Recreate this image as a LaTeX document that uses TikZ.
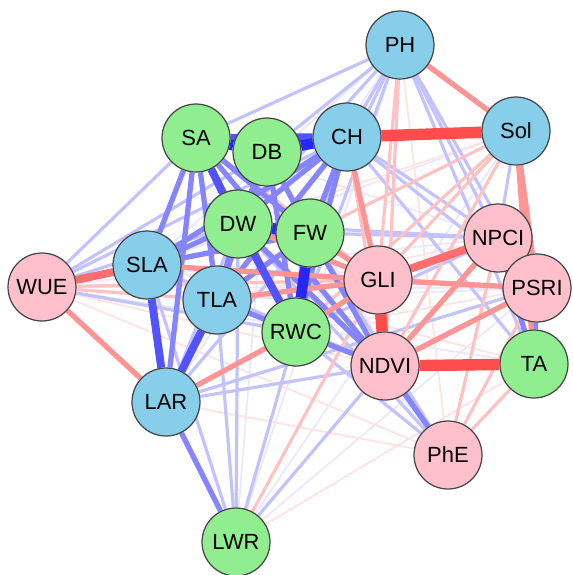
\documentclass[tikz,border=0pt]{standalone}
\usepackage{fontspec}
\setmainfont{Liberation Sans}
\usetikzlibrary{backgrounds}
\definecolor{mgreen}{RGB}{144,238,144}
\definecolor{mblue}{RGB}{135,206,235}
\definecolor{mpink}{RGB}{255,192,203}
\definecolor{mborder}{RGB}{70,70,70}
\tikzset{trait/.style={draw=mborder,circle,line width=0.7pt,minimum size=1.36cm,inner sep=0pt,font=\fontsize{12.5}{14}\selectfont}}

\begin{document}
\begin{tikzpicture}[x=0.02cm,y=-0.02cm,
    growth/.style={trait, fill=mgreen},
    shoot/.style={trait, fill=mblue},
    index/.style={trait, fill=mpink},
    p1/.style={draw=blue!9, line width=1pt},
    p2/.style={draw=blue!24, line width=1.8pt},
    p3/.style={draw=blue!48, line width=3pt},
    p4/.style={draw=blue!68, line width=4.5pt},
    p5/.style={draw=blue!85, line width=6pt},
    n1/.style={draw=red!11, line width=1pt},
    n2/.style={draw=red!24, line width=1.8pt},
    n3/.style={draw=red!42, line width=3pt},
    n4/.style={draw=red!57, line width=4.5pt},
    n5/.style={draw=red!70, line width=6.5pt},
]
\useasboundingbox (0,0) rectangle (572,575);

\node[shoot] (PH) at (400,45) {PH};
\node[shoot] (Sol) at (516,131) {Sol};
\node[shoot] (CH) at (347,137) {CH};
\node[growth] (SA) at (196,138) {SA};
\node[growth] (DB) at (267,152) {DB};
\node[growth] (DW) at (238,224) {DW};
\node[growth] (FW) at (310,233) {FW};
\node[shoot] (SLA) at (147,265) {SLA};
\node[index] (WUE) at (42,287) {WUE};
\node[shoot] (TLA) at (217,300) {TLA};
\node[growth] (RWC) at (296,332) {RWC};
\node[index] (GLI) at (378,280) {GLI};
\node[index] (NPCI) at (498,238) {NPCI};
\node[index] (PSRI) at (537,288) {PSRI};
\node[index] (NDVI) at (385,366) {NDVI};
\node[growth] (TA) at (534,364) {TA};
\node[shoot] (LAR) at (166,402) {LAR};
\node[index] (PhE) at (448,455) {PhE};
\node[growth] (LWR) at (236,542) {LWR};

\begin{scope}[on background layer]
% weak links first, strong ones on top
\foreach \a/\b in {PH/LAR, PH/LWR, PH/SLA, WUE/TA, WUE/NPCI, WUE/PSRI, DB/PhE, SA/PhE, Sol/LWR, Sol/SLA, SA/NPCI, TLA/PSRI, LWR/PSRI, DB/LWR}
  \draw[p1] (\a) -- (\b);
\foreach \a/\b in {LAR/PhE, LWR/TA, WUE/NDVI, WUE/PhE, Sol/DW, PH/PhE, RWC/PSRI, TLA/NPCI, SLA/TA}
  \draw[n1] (\a) -- (\b);
\foreach \a/\b in {PH/SA, PH/DB, PH/CH, PH/DW, PH/FW, PH/RWC, PH/NPCI, PH/TA, PH/PSRI,
    WUE/SA, WUE/DB, WUE/CH, WUE/DW, WUE/FW, WUE/RWC, LWR/RWC, LWR/TLA, LWR/SLA, LWR/NDVI, LWR/DW,
    LAR/FW, LAR/NDVI, LAR/PSRI, LAR/DB, SLA/NDVI, SLA/PSRI, PhE/RWC, PhE/FW, PhE/DW,
    CH/NPCI, CH/PSRI, CH/TA, Sol/NPCI, FW/NPCI, DW/NPCI, RWC/NPCI}
  \draw[p2] (\a) -- (\b);
\foreach \a/\b in {PH/GLI, PH/NDVI, Sol/GLI, Sol/NDVI, Sol/RWC, Sol/FW, CH/NDVI, WUE/GLI, WUE/TLA,
    PhE/NPCI, PhE/PSRI, PhE/TA, LWR/GLI, TLA/NDVI, SA/GLI, DB/NDVI}
  \draw[n2] (\a) -- (\b);
\foreach \a/\b in {SA/SLA, SA/TLA, SA/RWC, SA/FW, SA/LAR, DB/DW, DB/FW, DB/RWC, DB/TLA,
    CH/DW, CH/FW, CH/RWC, CH/TLA, CH/SLA, TLA/DW, TLA/FW, TLA/RWC, SLA/DW, SLA/FW, LAR/LWR,
    NDVI/PhE, NDVI/DW, NDVI/FW, NDVI/SA, NDVI/RWC, PSRI/TA, NPCI/TA}
  \draw[p3] (\a) -- (\b);
\foreach \a/\b in {WUE/LAR, CH/GLI, LAR/RWC, GLI/PSRI, NDVI/PSRI, NDVI/NPCI, Sol/PSRI, Sol/TA,
    PH/Sol, SLA/GLI, TLA/GLI, FW/GLI, DW/GLI, RWC/GLI}
  \draw[n3] (\a) -- (\b);
\foreach \a/\b in {SA/DW, DW/RWC, SLA/LAR, TLA/LAR, SA/CH}
  \draw[p4] (\a) -- (\b);
\foreach \a/\b in {WUE/SLA, GLI/NPCI}
  \draw[n4] (\a) -- (\b);
\foreach \a/\b in {SA/DB, DB/CH, DW/FW, FW/RWC}
  \draw[p5] (\a) -- (\b);
\foreach \a/\b in {CH/Sol, GLI/NDVI, NDVI/TA}
  \draw[n5] (\a) -- (\b);
\end{scope}
\end{tikzpicture}
\end{document}
